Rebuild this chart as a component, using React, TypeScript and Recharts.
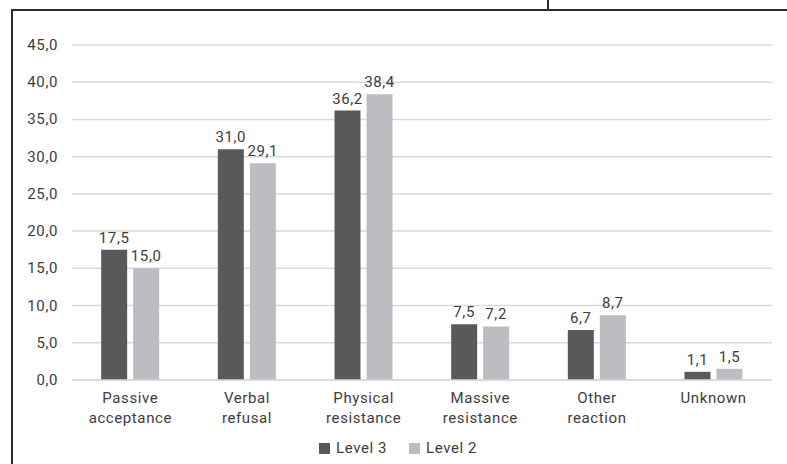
import React from 'react';
import { BarChart, Bar, XAxis, YAxis, CartesianGrid, LabelList } from 'recharts';

const categories = [
  ['Passive', 'acceptance'],
  ['Verbal', 'refusal'],
  ['Physical', 'resistance'],
  ['Massive', 'resistance'],
  ['Other', 'reaction'],
  ['Unknown'],
];
const level3 = [17.5, 31.0, 36.2, 7.5, 6.7, 1.1];
const level2 = [15.0, 29.1, 38.4, 7.2, 8.7, 1.5];
const yTicks = [0, 5, 10, 15, 20, 25, 30, 35, 40, 45];

const data = categories.map((lines, i) => ({
  name: lines.join(' '),
  level3: level3[i],
  level2: level2[i],
}));

const DARK = '#58595b';
const LIGHT = '#bcbdc0';
const TEXT = '#3d3d3d';
const FONT = 'Roboto, "DejaVu Sans", sans-serif';
const SPACING = 0.6;

const fmt = (v: number) => v.toFixed(1).replace('.', ',');

const YTick = (props: any) => {
  const { y, payload } = props;
  return (
    <text x={58} y={y} dy={5} textAnchor="end" fontSize={15} fill={TEXT} fontFamily={FONT} letterSpacing={SPACING}>
      {fmt(payload.value)}
    </text>
  );
};

const XTick = (props: any) => {
  const { x, payload } = props;
  const lines = categories[payload.index] || [payload.value];
  return (
    <g>
      {lines.map((line: string, i: number) => (
        <text key={i} x={x} y={403 + i * 20} textAnchor="middle" fontSize={15} fill={TEXT} fontFamily={FONT} letterSpacing={SPACING}>
          {line}
        </text>
      ))}
    </g>
  );
};

const swatch = (color: string) => (
  <span style={{ width: 11, height: 11, background: color, display: 'inline-block', marginRight: 6 }} />
);

export default function App() {
  return (
    <div style={{ position: 'absolute', left: 0, top: 0, width: 787, height: 464, background: '#fff' }}>
      {/* frame lines around the figure */}
      <div style={{ position: 'absolute', left: 11, top: 9, width: 776, height: 2, background: '#2b2b2b' }} />
      <div style={{ position: 'absolute', left: 11, top: 9, width: 2, height: 455, background: '#2b2b2b' }} />
      <div style={{ position: 'absolute', left: 547, top: 0, width: 1.5, height: 10, background: '#2b2b2b' }} />
      <BarChart
        width={787}
        height={464}
        data={data}
        margin={{ top: 45, right: 15, bottom: 54, left: 12 }}
        barCategoryGap="25%"
        barGap={6}
        style={{ position: 'absolute', left: 0, top: 0 }}
      >
        <CartesianGrid vertical={false} stroke="#d9d9d9" strokeWidth={1.5} />
        <XAxis dataKey="name" height={30} axisLine={{ stroke: '#d9d9d9', strokeWidth: 1.5 }} tickLine={false} tick={<XTick />} interval={0} />
        <YAxis domain={[0, 45]} ticks={yTicks} width={60} axisLine={false} tickLine={false} tick={<YTick />} />
        <Bar dataKey="level3" name="Level 3" fill={DARK} isAnimationActive={false}>
          <LabelList dataKey="level3" position="top" offset={7} formatter={(v: any) => fmt(Number(v))} fill={TEXT} fontSize={15} fontFamily={FONT} letterSpacing={SPACING} />
        </Bar>
        <Bar dataKey="level2" name="Level 2" fill={LIGHT} isAnimationActive={false}>
          <LabelList dataKey="level2" position="top" offset={7} formatter={(v: any) => fmt(Number(v))} fill={TEXT} fontSize={15} fontFamily={FONT} letterSpacing={SPACING} />
        </Bar>
      </BarChart>
      {/* legend */}
      <div
        style={{
          position: 'absolute', left: 319, top: 438, display: 'flex', alignItems: 'center',
          fontFamily: FONT, fontSize: 15, color: TEXT, letterSpacing: SPACING, lineHeight: '20px',
        }}
      >
        {swatch(DARK)}
        <span style={{ marginRight: 22 }}>Level 3</span>
        {swatch(LIGHT)}
        <span>Level 2</span>
      </div>
    </div>
  );
}
